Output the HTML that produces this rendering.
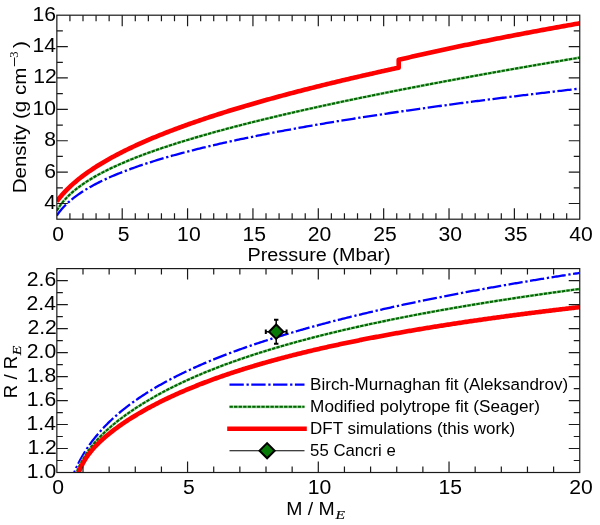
<!DOCTYPE html>
<html><head><meta charset="utf-8"><style>
html,body{margin:0;padding:0;background:#fff;width:600px;height:525px;overflow:hidden;position:relative}
</style></head><body>
<svg width="600" height="525" viewBox="0 0 600 525" style="position:absolute;left:0;top:0;will-change:transform"><defs><clipPath id="ct"><rect x="56.85" y="15.2" width="522.9" height="204.0"/></clipPath><clipPath id="cb"><rect x="56.85" y="268.6" width="522.9" height="203.89999999999998"/></clipPath></defs><g clip-path="url(#ct)" fill="none"><path d="M56.85,215.58 L57.19,215.08 L57.52,214.58 L57.86,214.10 L58.19,213.63 L58.53,213.16 L58.86,212.71 L59.20,212.26 L59.53,211.82 L59.87,211.39 L60.20,210.97 L60.54,210.55 L60.87,210.14 L61.21,209.74 L61.54,209.34 L61.88,208.95 L62.21,208.57 L62.55,208.19 L62.88,207.82 L63.22,207.45 L63.55,207.09 L63.89,206.73 L64.22,206.37 L64.56,206.03 L64.89,205.68 L65.23,205.34 L65.56,205.00 L65.90,204.67 L66.24,204.34 L66.57,204.02 L66.91,203.70 L67.24,203.38 L67.58,203.07 L67.91,202.76 L68.25,202.45 L68.58,202.15 L68.92,201.85 L69.25,201.55 L69.59,201.26 L69.92,200.97 L71.63,199.53 L73.33,198.15 L75.04,196.84 L76.74,195.57 L78.45,194.36 L80.15,193.19 L81.86,192.06 L83.56,190.96 L85.27,189.90 L86.97,188.87 L88.68,187.87 L90.38,186.89 L92.09,185.94 L93.79,185.02 L95.50,184.11 L97.20,183.23 L98.91,182.37 L100.61,181.53 L102.32,180.70 L104.02,179.89 L105.73,179.10 L107.43,178.32 L109.14,177.56 L110.85,176.81 L112.55,176.07 L114.26,175.34 L115.96,174.63 L117.67,173.93 L119.37,173.24 L121.08,172.56 L122.78,171.89 L124.49,171.24 L126.19,170.59 L127.90,169.95 L129.60,169.32 L131.31,168.69 L133.01,168.08 L134.72,167.47 L136.42,166.87 L138.13,166.28 L139.83,165.70 L141.54,165.12 L143.24,164.55 L144.95,163.99 L146.65,163.43 L148.36,162.88 L150.06,162.33 L151.77,161.79 L153.47,161.26 L155.18,160.73 L156.88,160.21 L158.59,159.69 L160.29,159.18 L162.00,158.67 L163.70,158.17 L165.41,157.67 L167.11,157.18 L168.82,156.69 L170.52,156.21 L172.23,155.73 L173.93,155.25 L175.64,154.78 L177.34,154.32 L179.05,153.85 L180.75,153.39 L182.46,152.94 L184.16,152.49 L185.87,152.04 L187.57,151.59 L189.28,151.15 L190.99,150.71 L192.69,150.28 L194.40,149.85 L196.10,149.42 L197.81,148.99 L199.51,148.57 L201.22,148.15 L202.92,147.74 L204.63,147.32 L206.33,146.91 L208.04,146.51 L209.74,146.10 L211.45,145.70 L213.15,145.30 L214.86,144.90 L216.56,144.51 L218.27,144.12 L219.97,143.73 L221.68,143.34 L223.38,142.96 L225.09,142.58 L226.79,142.20 L228.50,141.82 L230.20,141.45 L231.91,141.07 L233.61,140.70 L235.32,140.33 L237.02,139.97 L238.73,139.60 L240.43,139.24 L242.14,138.88 L243.84,138.52 L245.55,138.17 L247.25,137.81 L248.96,137.46 L250.66,137.11 L252.37,136.76 L254.07,136.42 L255.78,136.07 L257.48,135.73 L259.19,135.39 L260.89,135.05 L262.60,134.71 L264.30,134.37 L266.01,134.04 L267.72,133.70 L269.42,133.37 L271.13,133.04 L272.83,132.71 L274.54,132.39 L276.24,132.06 L277.95,131.74 L279.65,131.42 L281.36,131.10 L283.06,130.78 L284.77,130.46 L286.47,130.14 L288.18,129.83 L289.88,129.52 L291.59,129.20 L293.29,128.89 L295.00,128.58 L296.70,128.27 L298.41,127.97 L300.11,127.66 L301.82,127.36 L303.52,127.06 L305.23,126.75 L306.93,126.45 L308.64,126.15 L310.34,125.86 L312.05,125.56 L313.75,125.26 L315.46,124.97 L317.16,124.68 L318.87,124.38 L320.57,124.09 L322.28,123.80 L323.98,123.51 L325.69,123.23 L327.39,122.94 L329.10,122.65 L330.80,122.37 L332.51,122.09 L334.21,121.80 L335.92,121.52 L337.62,121.24 L339.33,120.96 L341.03,120.68 L342.74,120.41 L344.44,120.13 L346.15,119.86 L347.86,119.58 L349.56,119.31 L351.27,119.04 L352.97,118.76 L354.68,118.49 L356.38,118.22 L358.09,117.95 L359.79,117.69 L361.50,117.42 L363.20,117.15 L364.91,116.89 L366.61,116.62 L368.32,116.36 L370.02,116.10 L371.73,115.84 L373.43,115.58 L375.14,115.32 L376.84,115.06 L378.55,114.80 L380.25,114.54 L381.96,114.28 L383.66,114.03 L385.37,113.77 L387.07,113.52 L388.78,113.26 L390.48,113.01 L392.19,112.76 L393.89,112.51 L395.60,112.26 L397.30,112.01 L399.01,111.76 L400.71,111.51 L402.42,111.26 L404.12,111.01 L405.83,110.77 L407.53,110.52 L409.24,110.28 L410.94,110.03 L412.65,109.79 L414.35,109.55 L416.06,109.31 L417.76,109.06 L419.47,108.82 L421.17,108.58 L422.88,108.34 L424.59,108.11 L426.29,107.87 L428.00,107.63 L429.70,107.39 L431.41,107.16 L433.11,106.92 L434.82,106.69 L436.52,106.45 L438.23,106.22 L439.93,105.99 L441.64,105.75 L443.34,105.52 L445.05,105.29 L446.75,105.06 L448.46,104.83 L450.16,104.60 L451.87,104.37 L453.57,104.14 L455.28,103.91 L456.98,103.69 L458.69,103.46 L460.39,103.23 L462.10,103.01 L463.80,102.78 L465.51,102.56 L467.21,102.34 L468.92,102.11 L470.62,101.89 L472.33,101.67 L474.03,101.45 L475.74,101.22 L477.44,101.00 L479.15,100.78 L480.85,100.56 L482.56,100.35 L484.26,100.13 L485.97,99.91 L487.67,99.69 L489.38,99.47 L491.08,99.26 L492.79,99.04 L494.49,98.83 L496.20,98.61 L497.90,98.40 L499.61,98.18 L501.31,97.97 L503.02,97.76 L504.73,97.54 L506.43,97.33 L508.14,97.12 L509.84,96.91 L511.55,96.70 L513.25,96.49 L514.96,96.28 L516.66,96.07 L518.37,95.86 L520.07,95.65 L521.78,95.44 L523.48,95.23 L525.19,95.03 L526.89,94.82 L528.60,94.61 L530.30,94.41 L532.01,94.20 L533.71,94.00 L535.42,93.79 L537.12,93.59 L538.83,93.38 L540.53,93.18 L542.24,92.98 L543.94,92.77 L545.65,92.57 L547.35,92.37 L549.06,92.17 L550.76,91.97 L552.47,91.77 L554.17,91.57 L555.88,91.37 L557.58,91.17 L559.29,90.97 L560.99,90.77 L562.70,90.57 L564.40,90.37 L566.11,90.18 L567.81,89.98 L569.52,89.78 L571.22,89.59 L572.93,89.39 L574.63,89.20 L576.34,89.00 L578.04,88.81 L579.75,88.61" stroke="#0000ff" stroke-width="2.3" stroke-dasharray="14.3 2.7 2.3 2.5"/><path d="M56.85,210.69 L57.19,210.10 L57.52,209.54 L57.86,208.98 L58.19,208.44 L58.53,207.92 L58.86,207.40 L59.20,206.90 L59.53,206.40 L59.87,205.92 L60.20,205.44 L60.54,204.98 L60.87,204.52 L61.21,204.07 L61.54,203.63 L61.88,203.20 L62.21,202.77 L62.55,202.35 L62.88,201.94 L63.22,201.53 L63.55,201.13 L63.89,200.74 L64.22,200.35 L64.56,199.97 L64.89,199.59 L65.23,199.22 L65.56,198.85 L65.90,198.48 L66.24,198.13 L66.57,197.77 L66.91,197.42 L67.24,197.08 L67.58,196.74 L67.91,196.40 L68.25,196.07 L68.58,195.74 L68.92,195.41 L69.25,195.09 L69.59,194.77 L69.92,194.45 L71.63,192.89 L73.33,191.41 L75.04,189.99 L76.74,188.63 L78.45,187.32 L80.15,186.05 L81.86,184.84 L83.56,183.66 L85.27,182.51 L86.97,181.40 L88.68,180.32 L90.38,179.27 L92.09,178.24 L93.79,177.24 L95.50,176.27 L97.20,175.31 L98.91,174.38 L100.61,173.46 L102.32,172.56 L104.02,171.68 L105.73,170.82 L107.43,169.97 L109.14,169.14 L110.85,168.32 L112.55,167.51 L114.26,166.72 L115.96,165.94 L117.67,165.17 L119.37,164.41 L121.08,163.66 L122.78,162.92 L124.49,162.19 L126.19,161.48 L127.90,160.77 L129.60,160.07 L131.31,159.37 L133.01,158.69 L134.72,158.01 L136.42,157.35 L138.13,156.68 L139.83,156.03 L141.54,155.38 L143.24,154.74 L144.95,154.11 L146.65,153.48 L148.36,152.86 L150.06,152.25 L151.77,151.64 L153.47,151.03 L155.18,150.43 L156.88,149.84 L158.59,149.25 L160.29,148.67 L162.00,148.09 L163.70,147.52 L165.41,146.95 L167.11,146.38 L168.82,145.82 L170.52,145.27 L172.23,144.71 L173.93,144.17 L175.64,143.62 L177.34,143.08 L179.05,142.55 L180.75,142.02 L182.46,141.49 L184.16,140.96 L185.87,140.44 L187.57,139.92 L189.28,139.41 L190.99,138.90 L192.69,138.39 L194.40,137.88 L196.10,137.38 L197.81,136.88 L199.51,136.38 L201.22,135.89 L202.92,135.40 L204.63,134.91 L206.33,134.43 L208.04,133.94 L209.74,133.46 L211.45,132.99 L213.15,132.51 L214.86,132.04 L216.56,131.57 L218.27,131.10 L219.97,130.64 L221.68,130.18 L223.38,129.72 L225.09,129.26 L226.79,128.80 L228.50,128.35 L230.20,127.90 L231.91,127.45 L233.61,127.00 L235.32,126.55 L237.02,126.11 L238.73,125.67 L240.43,125.23 L242.14,124.79 L243.84,124.35 L245.55,123.92 L247.25,123.49 L248.96,123.06 L250.66,122.63 L252.37,122.20 L254.07,121.78 L255.78,121.35 L257.48,120.93 L259.19,120.51 L260.89,120.09 L262.60,119.68 L264.30,119.26 L266.01,118.85 L267.72,118.44 L269.42,118.02 L271.13,117.62 L272.83,117.21 L274.54,116.80 L276.24,116.40 L277.95,115.99 L279.65,115.59 L281.36,115.19 L283.06,114.79 L284.77,114.39 L286.47,114.00 L288.18,113.60 L289.88,113.21 L291.59,112.81 L293.29,112.42 L295.00,112.03 L296.70,111.64 L298.41,111.26 L300.11,110.87 L301.82,110.48 L303.52,110.10 L305.23,109.72 L306.93,109.33 L308.64,108.95 L310.34,108.57 L312.05,108.20 L313.75,107.82 L315.46,107.44 L317.16,107.07 L318.87,106.69 L320.57,106.32 L322.28,105.95 L323.98,105.58 L325.69,105.21 L327.39,104.84 L329.10,104.47 L330.80,104.10 L332.51,103.74 L334.21,103.37 L335.92,103.01 L337.62,102.64 L339.33,102.28 L341.03,101.92 L342.74,101.56 L344.44,101.20 L346.15,100.84 L347.86,100.48 L349.56,100.13 L351.27,99.77 L352.97,99.41 L354.68,99.06 L356.38,98.71 L358.09,98.35 L359.79,98.00 L361.50,97.65 L363.20,97.30 L364.91,96.95 L366.61,96.60 L368.32,96.26 L370.02,95.91 L371.73,95.56 L373.43,95.22 L375.14,94.87 L376.84,94.53 L378.55,94.19 L380.25,93.84 L381.96,93.50 L383.66,93.16 L385.37,92.82 L387.07,92.48 L388.78,92.14 L390.48,91.80 L392.19,91.47 L393.89,91.13 L395.60,90.79 L397.30,90.46 L399.01,90.12 L400.71,89.79 L402.42,89.46 L404.12,89.12 L405.83,88.79 L407.53,88.46 L409.24,88.13 L410.94,87.80 L412.65,87.47 L414.35,87.14 L416.06,86.81 L417.76,86.49 L419.47,86.16 L421.17,85.83 L422.88,85.51 L424.59,85.18 L426.29,84.86 L428.00,84.53 L429.70,84.21 L431.41,83.89 L433.11,83.56 L434.82,83.24 L436.52,82.92 L438.23,82.60 L439.93,82.28 L441.64,81.96 L443.34,81.64 L445.05,81.32 L446.75,81.01 L448.46,80.69 L450.16,80.37 L451.87,80.06 L453.57,79.74 L455.28,79.43 L456.98,79.11 L458.69,78.80 L460.39,78.48 L462.10,78.17 L463.80,77.86 L465.51,77.55 L467.21,77.23 L468.92,76.92 L470.62,76.61 L472.33,76.30 L474.03,75.99 L475.74,75.68 L477.44,75.38 L479.15,75.07 L480.85,74.76 L482.56,74.45 L484.26,74.15 L485.97,73.84 L487.67,73.53 L489.38,73.23 L491.08,72.92 L492.79,72.62 L494.49,72.31 L496.20,72.01 L497.90,71.71 L499.61,71.40 L501.31,71.10 L503.02,70.80 L504.73,70.50 L506.43,70.20 L508.14,69.90 L509.84,69.60 L511.55,69.30 L513.25,69.00 L514.96,68.70 L516.66,68.40 L518.37,68.10 L520.07,67.80 L521.78,67.51 L523.48,67.21 L525.19,66.91 L526.89,66.62 L528.60,66.32 L530.30,66.02 L532.01,65.73 L533.71,65.44 L535.42,65.14 L537.12,64.85 L538.83,64.55 L540.53,64.26 L542.24,63.97 L543.94,63.68 L545.65,63.38 L547.35,63.09 L549.06,62.80 L550.76,62.51 L552.47,62.22 L554.17,61.93 L555.88,61.64 L557.58,61.35 L559.29,61.06 L560.99,60.77 L562.70,60.48 L564.40,60.19 L566.11,59.91 L567.81,59.62 L569.52,59.33 L571.22,59.05 L572.93,58.76 L574.63,58.47 L576.34,58.19 L578.04,57.90 L579.75,57.62" stroke="#9ed89e" stroke-width="2.7"/><path d="M56.85,210.69 L57.19,210.10 L57.52,209.54 L57.86,208.98 L58.19,208.44 L58.53,207.92 L58.86,207.40 L59.20,206.90 L59.53,206.40 L59.87,205.92 L60.20,205.44 L60.54,204.98 L60.87,204.52 L61.21,204.07 L61.54,203.63 L61.88,203.20 L62.21,202.77 L62.55,202.35 L62.88,201.94 L63.22,201.53 L63.55,201.13 L63.89,200.74 L64.22,200.35 L64.56,199.97 L64.89,199.59 L65.23,199.22 L65.56,198.85 L65.90,198.48 L66.24,198.13 L66.57,197.77 L66.91,197.42 L67.24,197.08 L67.58,196.74 L67.91,196.40 L68.25,196.07 L68.58,195.74 L68.92,195.41 L69.25,195.09 L69.59,194.77 L69.92,194.45 L71.63,192.89 L73.33,191.41 L75.04,189.99 L76.74,188.63 L78.45,187.32 L80.15,186.05 L81.86,184.84 L83.56,183.66 L85.27,182.51 L86.97,181.40 L88.68,180.32 L90.38,179.27 L92.09,178.24 L93.79,177.24 L95.50,176.27 L97.20,175.31 L98.91,174.38 L100.61,173.46 L102.32,172.56 L104.02,171.68 L105.73,170.82 L107.43,169.97 L109.14,169.14 L110.85,168.32 L112.55,167.51 L114.26,166.72 L115.96,165.94 L117.67,165.17 L119.37,164.41 L121.08,163.66 L122.78,162.92 L124.49,162.19 L126.19,161.48 L127.90,160.77 L129.60,160.07 L131.31,159.37 L133.01,158.69 L134.72,158.01 L136.42,157.35 L138.13,156.68 L139.83,156.03 L141.54,155.38 L143.24,154.74 L144.95,154.11 L146.65,153.48 L148.36,152.86 L150.06,152.25 L151.77,151.64 L153.47,151.03 L155.18,150.43 L156.88,149.84 L158.59,149.25 L160.29,148.67 L162.00,148.09 L163.70,147.52 L165.41,146.95 L167.11,146.38 L168.82,145.82 L170.52,145.27 L172.23,144.71 L173.93,144.17 L175.64,143.62 L177.34,143.08 L179.05,142.55 L180.75,142.02 L182.46,141.49 L184.16,140.96 L185.87,140.44 L187.57,139.92 L189.28,139.41 L190.99,138.90 L192.69,138.39 L194.40,137.88 L196.10,137.38 L197.81,136.88 L199.51,136.38 L201.22,135.89 L202.92,135.40 L204.63,134.91 L206.33,134.43 L208.04,133.94 L209.74,133.46 L211.45,132.99 L213.15,132.51 L214.86,132.04 L216.56,131.57 L218.27,131.10 L219.97,130.64 L221.68,130.18 L223.38,129.72 L225.09,129.26 L226.79,128.80 L228.50,128.35 L230.20,127.90 L231.91,127.45 L233.61,127.00 L235.32,126.55 L237.02,126.11 L238.73,125.67 L240.43,125.23 L242.14,124.79 L243.84,124.35 L245.55,123.92 L247.25,123.49 L248.96,123.06 L250.66,122.63 L252.37,122.20 L254.07,121.78 L255.78,121.35 L257.48,120.93 L259.19,120.51 L260.89,120.09 L262.60,119.68 L264.30,119.26 L266.01,118.85 L267.72,118.44 L269.42,118.02 L271.13,117.62 L272.83,117.21 L274.54,116.80 L276.24,116.40 L277.95,115.99 L279.65,115.59 L281.36,115.19 L283.06,114.79 L284.77,114.39 L286.47,114.00 L288.18,113.60 L289.88,113.21 L291.59,112.81 L293.29,112.42 L295.00,112.03 L296.70,111.64 L298.41,111.26 L300.11,110.87 L301.82,110.48 L303.52,110.10 L305.23,109.72 L306.93,109.33 L308.64,108.95 L310.34,108.57 L312.05,108.20 L313.75,107.82 L315.46,107.44 L317.16,107.07 L318.87,106.69 L320.57,106.32 L322.28,105.95 L323.98,105.58 L325.69,105.21 L327.39,104.84 L329.10,104.47 L330.80,104.10 L332.51,103.74 L334.21,103.37 L335.92,103.01 L337.62,102.64 L339.33,102.28 L341.03,101.92 L342.74,101.56 L344.44,101.20 L346.15,100.84 L347.86,100.48 L349.56,100.13 L351.27,99.77 L352.97,99.41 L354.68,99.06 L356.38,98.71 L358.09,98.35 L359.79,98.00 L361.50,97.65 L363.20,97.30 L364.91,96.95 L366.61,96.60 L368.32,96.26 L370.02,95.91 L371.73,95.56 L373.43,95.22 L375.14,94.87 L376.84,94.53 L378.55,94.19 L380.25,93.84 L381.96,93.50 L383.66,93.16 L385.37,92.82 L387.07,92.48 L388.78,92.14 L390.48,91.80 L392.19,91.47 L393.89,91.13 L395.60,90.79 L397.30,90.46 L399.01,90.12 L400.71,89.79 L402.42,89.46 L404.12,89.12 L405.83,88.79 L407.53,88.46 L409.24,88.13 L410.94,87.80 L412.65,87.47 L414.35,87.14 L416.06,86.81 L417.76,86.49 L419.47,86.16 L421.17,85.83 L422.88,85.51 L424.59,85.18 L426.29,84.86 L428.00,84.53 L429.70,84.21 L431.41,83.89 L433.11,83.56 L434.82,83.24 L436.52,82.92 L438.23,82.60 L439.93,82.28 L441.64,81.96 L443.34,81.64 L445.05,81.32 L446.75,81.01 L448.46,80.69 L450.16,80.37 L451.87,80.06 L453.57,79.74 L455.28,79.43 L456.98,79.11 L458.69,78.80 L460.39,78.48 L462.10,78.17 L463.80,77.86 L465.51,77.55 L467.21,77.23 L468.92,76.92 L470.62,76.61 L472.33,76.30 L474.03,75.99 L475.74,75.68 L477.44,75.38 L479.15,75.07 L480.85,74.76 L482.56,74.45 L484.26,74.15 L485.97,73.84 L487.67,73.53 L489.38,73.23 L491.08,72.92 L492.79,72.62 L494.49,72.31 L496.20,72.01 L497.90,71.71 L499.61,71.40 L501.31,71.10 L503.02,70.80 L504.73,70.50 L506.43,70.20 L508.14,69.90 L509.84,69.60 L511.55,69.30 L513.25,69.00 L514.96,68.70 L516.66,68.40 L518.37,68.10 L520.07,67.80 L521.78,67.51 L523.48,67.21 L525.19,66.91 L526.89,66.62 L528.60,66.32 L530.30,66.02 L532.01,65.73 L533.71,65.44 L535.42,65.14 L537.12,64.85 L538.83,64.55 L540.53,64.26 L542.24,63.97 L543.94,63.68 L545.65,63.38 L547.35,63.09 L549.06,62.80 L550.76,62.51 L552.47,62.22 L554.17,61.93 L555.88,61.64 L557.58,61.35 L559.29,61.06 L560.99,60.77 L562.70,60.48 L564.40,60.19 L566.11,59.91 L567.81,59.62 L569.52,59.33 L571.22,59.05 L572.93,58.76 L574.63,58.47 L576.34,58.19 L578.04,57.90 L579.75,57.62" stroke="#006400" stroke-width="2.1" stroke-dasharray="3.35 1.2"/><path d="M56.85,201.38 L57.19,200.92 L57.52,200.48 L57.86,200.04 L58.19,199.60 L58.53,199.17 L58.86,198.74 L59.20,198.32 L59.53,197.90 L59.87,197.49 L60.20,197.08 L60.54,196.68 L60.87,196.28 L61.21,195.89 L61.54,195.50 L61.88,195.11 L62.21,194.72 L62.55,194.34 L62.88,193.97 L63.22,193.59 L63.55,193.23 L63.89,192.86 L64.22,192.50 L64.56,192.14 L64.89,191.78 L65.23,191.43 L65.56,191.07 L65.90,190.73 L66.24,190.38 L66.57,190.04 L66.91,189.70 L67.24,189.36 L67.58,189.03 L67.91,188.70 L68.25,188.37 L68.58,188.04 L68.92,187.72 L69.25,187.39 L69.59,187.08 L69.92,186.76 L71.63,185.18 L73.33,183.65 L75.04,182.17 L76.74,180.73 L78.45,179.34 L80.15,177.98 L81.86,176.66 L83.56,175.37 L85.27,174.12 L86.97,172.89 L88.68,171.69 L90.38,170.52 L92.09,169.37 L93.79,168.24 L95.50,167.13 L97.20,166.05 L98.91,164.98 L100.61,163.94 L102.32,162.91 L104.02,161.90 L105.73,160.90 L107.43,159.93 L109.14,158.96 L110.85,158.01 L112.55,157.08 L114.26,156.15 L115.96,155.24 L117.67,154.35 L119.37,153.46 L121.08,152.59 L122.78,151.72 L124.49,150.87 L126.19,150.03 L127.90,149.20 L129.60,148.38 L131.31,147.56 L133.01,146.76 L134.72,145.97 L136.42,145.18 L138.13,144.40 L139.83,143.63 L141.54,142.87 L143.24,142.11 L144.95,141.37 L146.65,140.63 L148.36,139.89 L150.06,139.17 L151.77,138.45 L153.47,137.74 L155.18,137.03 L156.88,136.33 L158.59,135.64 L160.29,134.95 L162.00,134.26 L163.70,133.59 L165.41,132.92 L167.11,132.25 L168.82,131.59 L170.52,130.93 L172.23,130.28 L173.93,129.64 L175.64,128.99 L177.34,128.36 L179.05,127.73 L180.75,127.10 L182.46,126.48 L184.16,125.86 L185.87,125.24 L187.57,124.63 L189.28,124.03 L190.99,123.43 L192.69,122.83 L194.40,122.23 L196.10,121.64 L197.81,121.06 L199.51,120.47 L201.22,119.89 L202.92,119.32 L204.63,118.75 L206.33,118.18 L208.04,117.61 L209.74,117.05 L211.45,116.49 L213.15,115.94 L214.86,115.38 L216.56,114.83 L218.27,114.29 L219.97,113.74 L221.68,113.20 L223.38,112.67 L225.09,112.13 L226.79,111.60 L228.50,111.07 L230.20,110.54 L231.91,110.02 L233.61,109.50 L235.32,108.98 L237.02,108.46 L238.73,107.95 L240.43,107.44 L242.14,106.93 L243.84,106.43 L245.55,105.92 L247.25,105.42 L248.96,104.92 L250.66,104.43 L252.37,103.93 L254.07,103.44 L255.78,102.95 L257.48,102.46 L259.19,101.98 L260.89,101.49 L262.60,101.01 L264.30,100.53 L266.01,100.06 L267.72,99.58 L269.42,99.11 L271.13,98.64 L272.83,98.17 L274.54,97.70 L276.24,97.23 L277.95,96.77 L279.65,96.31 L281.36,95.85 L283.06,95.39 L284.77,94.94 L286.47,94.48 L288.18,94.03 L289.88,93.58 L291.59,93.13 L293.29,92.68 L295.00,92.23 L296.70,91.79 L298.41,91.35 L300.11,90.91 L301.82,90.47 L303.52,90.03 L305.23,89.59 L306.93,89.16 L308.64,88.73 L310.34,88.29 L312.05,87.86 L313.75,87.44 L315.46,87.01 L317.16,86.58 L318.87,86.16 L320.57,85.74 L322.28,85.31 L323.98,84.89 L325.69,84.48 L327.39,84.06 L329.10,83.64 L330.80,83.23 L332.51,82.81 L334.21,82.40 L335.92,81.99 L337.62,81.58 L339.33,81.17 L341.03,80.77 L342.74,80.36 L344.44,79.96 L346.15,79.56 L347.86,79.15 L349.56,78.75 L351.27,78.35 L352.97,77.96 L354.68,77.56 L356.38,77.16 L358.09,76.77 L359.79,76.37 L361.50,75.98 L363.20,75.59 L364.91,75.20 L366.61,74.81 L368.32,74.42 L370.02,74.04 L371.73,73.65 L373.43,73.27 L375.14,72.88 L376.84,72.50 L378.55,72.12 L380.25,71.74 L381.96,71.36 L383.66,70.98 L385.37,70.60 L387.07,70.23 L388.78,69.85 L390.48,69.48 L392.19,69.10 L393.89,68.73 L395.60,68.36 L397.30,67.99 L398.70,67.69 L398.70,59.79 L400.99,59.25 L403.28,58.72 L405.57,58.18 L407.86,57.65 L410.15,57.13 L412.45,56.60 L414.74,56.08 L417.03,55.56 L419.32,55.04 L421.61,54.52 L423.91,54.01 L426.20,53.50 L428.49,52.99 L430.78,52.48 L433.07,51.98 L435.37,51.47 L437.66,50.97 L439.95,50.48 L442.24,49.98 L444.53,49.48 L446.82,48.99 L449.12,48.50 L451.41,48.01 L453.70,47.53 L455.99,47.04 L458.28,46.56 L460.58,46.08 L462.87,45.60 L465.16,45.12 L467.45,44.64 L469.74,44.17 L472.03,43.70 L474.33,43.23 L476.62,42.76 L478.91,42.29 L481.20,41.83 L483.49,41.37 L485.79,40.90 L488.08,40.44 L490.37,39.99 L492.66,39.53 L494.95,39.08 L497.24,38.62 L499.54,38.17 L501.83,37.72 L504.12,37.27 L506.41,36.83 L508.70,36.38 L511.00,35.94 L513.29,35.49 L515.58,35.05 L517.87,34.62 L520.16,34.18 L522.45,33.74 L524.75,33.31 L527.04,32.87 L529.33,32.44 L531.62,32.01 L533.91,31.58 L536.21,31.16 L538.50,30.73 L540.79,30.30 L543.08,29.88 L545.37,29.46 L547.66,29.04 L549.96,28.62 L552.25,28.20 L554.54,27.79 L556.83,27.37 L559.12,26.96 L561.42,26.54 L563.71,26.13 L566.00,25.72 L568.29,25.31 L570.58,24.91 L572.87,24.50 L575.17,24.09 L577.46,23.69 L579.75,23.29" stroke="#ff0000" stroke-width="4.6" stroke-linejoin="round"/></g><g clip-path="url(#cb)" fill="none"><path d="M69.92,483.97 L71.20,480.24 L72.48,476.78 L73.76,473.56 L75.03,470.55 L76.31,467.70 L77.59,465.01 L78.87,462.45 L80.14,460.01 L81.42,457.68 L82.70,455.45 L83.98,453.31 L85.26,451.25 L86.53,449.26 L87.81,447.34 L89.09,445.48 L90.37,443.68 L91.64,441.93 L92.92,440.24 L94.20,438.59 L95.48,436.99 L96.76,435.43 L98.03,433.91 L99.31,432.43 L100.59,430.98 L101.87,429.57 L103.14,428.18 L104.42,426.83 L105.70,425.51 L106.98,424.21 L108.26,422.94 L109.53,421.69 L110.81,420.47 L112.09,419.27 L113.37,418.09 L114.64,416.93 L115.92,415.80 L117.20,414.68 L118.48,413.58 L119.76,412.50 L121.03,411.44 L122.31,410.39 L123.59,409.36 L124.87,408.34 L126.14,407.34 L127.42,406.36 L128.70,405.39 L129.98,404.43 L131.26,403.48 L132.53,402.55 L133.81,401.63 L135.09,400.72 L136.37,399.83 L137.64,398.94 L138.92,398.07 L140.20,397.21 L141.48,396.35 L142.75,395.51 L144.03,394.68 L145.31,393.86 L146.59,393.04 L147.87,392.24 L149.14,391.44 L150.42,390.66 L151.70,389.88 L152.98,389.11 L154.25,388.34 L155.53,387.59 L156.81,386.84 L158.09,386.11 L159.37,385.37 L160.64,384.65 L161.92,383.93 L163.20,383.22 L164.48,382.52 L165.75,381.82 L167.03,381.13 L168.31,380.45 L169.59,379.77 L170.87,379.10 L172.14,378.43 L173.42,377.77 L174.70,377.12 L175.98,376.47 L177.25,375.82 L178.53,375.19 L179.81,374.55 L181.09,373.93 L182.37,373.30 L183.64,372.69 L184.92,372.07 L186.20,371.47 L187.48,370.86 L188.75,370.26 L190.03,369.67 L191.31,369.08 L192.59,368.50 L193.87,367.92 L195.14,367.34 L196.42,366.77 L197.70,366.20 L198.98,365.64 L200.25,365.08 L201.53,364.52 L202.81,363.97 L204.09,363.43 L205.37,362.88 L206.64,362.34 L207.92,361.80 L209.20,361.27 L210.48,360.74 L211.75,360.22 L213.03,359.69 L214.31,359.17 L215.59,358.66 L216.87,358.15 L218.14,357.64 L219.42,357.13 L220.70,356.63 L221.98,356.13 L223.25,355.63 L224.53,355.14 L225.81,354.65 L227.09,354.16 L228.37,353.68 L229.64,353.19 L230.92,352.72 L232.20,352.24 L233.48,351.77 L234.75,351.29 L236.03,350.83 L237.31,350.36 L238.59,349.90 L239.86,349.44 L241.14,348.98 L242.42,348.53 L243.70,348.07 L244.98,347.62 L246.25,347.18 L247.53,346.73 L248.81,346.29 L250.09,345.85 L251.36,345.41 L252.64,344.97 L253.92,344.54 L255.20,344.11 L256.48,343.68 L257.75,343.25 L259.03,342.83 L260.31,342.41 L261.59,341.99 L262.86,341.57 L264.14,341.15 L265.42,340.74 L266.70,340.32 L267.98,339.91 L269.25,339.51 L270.53,339.10 L271.81,338.70 L273.09,338.29 L274.36,337.89 L275.64,337.49 L276.92,337.10 L278.20,336.70 L279.48,336.31 L280.75,335.92 L282.03,335.53 L283.31,335.14 L284.59,334.75 L285.86,334.37 L287.14,333.99 L288.42,333.61 L289.70,333.23 L290.98,332.85 L292.25,332.48 L293.53,332.10 L294.81,331.73 L296.09,331.36 L297.36,330.99 L298.64,330.62 L299.92,330.25 L301.20,329.89 L302.48,329.53 L303.75,329.16 L305.03,328.80 L306.31,328.45 L307.59,328.09 L308.86,327.73 L310.14,327.38 L311.42,327.03 L312.70,326.67 L313.98,326.33 L315.25,325.98 L316.53,325.63 L317.81,325.28 L319.09,324.94 L320.36,324.60 L321.64,324.25 L322.92,323.91 L324.20,323.57 L325.48,323.24 L326.75,322.90 L328.03,322.57 L329.31,322.23 L330.59,321.90 L331.86,321.57 L333.14,321.24 L334.42,320.91 L335.70,320.58 L336.97,320.25 L338.25,319.93 L339.53,319.60 L340.81,319.28 L342.09,318.96 L343.36,318.64 L344.64,318.32 L345.92,318.00 L347.20,317.68 L348.47,317.37 L349.75,317.05 L351.03,316.74 L352.31,316.43 L353.59,316.11 L354.86,315.80 L356.14,315.49 L357.42,315.19 L358.70,314.88 L359.97,314.57 L361.25,314.27 L362.53,313.96 L363.81,313.66 L365.09,313.36 L366.36,313.06 L367.64,312.75 L368.92,312.46 L370.20,312.16 L371.47,311.86 L372.75,311.56 L374.03,311.27 L375.31,310.97 L376.59,310.68 L377.86,310.39 L379.14,310.10 L380.42,309.81 L381.70,309.52 L382.97,309.23 L384.25,308.94 L385.53,308.65 L386.81,308.37 L388.09,308.08 L389.36,307.80 L390.64,307.51 L391.92,307.23 L393.20,306.95 L394.47,306.67 L395.75,306.39 L397.03,306.11 L398.31,305.83 L399.59,305.55 L400.86,305.28 L402.14,305.00 L403.42,304.73 L404.70,304.45 L405.97,304.18 L407.25,303.91 L408.53,303.64 L409.81,303.37 L411.09,303.10 L412.36,302.83 L413.64,302.56 L414.92,302.29 L416.20,302.02 L417.47,301.76 L418.75,301.49 L420.03,301.23 L421.31,300.96 L422.59,300.70 L423.86,300.44 L425.14,300.18 L426.42,299.92 L427.70,299.66 L428.97,299.40 L430.25,299.14 L431.53,298.88 L432.81,298.62 L434.08,298.37 L435.36,298.11 L436.64,297.85 L437.92,297.60 L439.20,297.35 L440.47,297.09 L441.75,296.84 L443.03,296.59 L444.31,296.34 L445.58,296.09 L446.86,295.84 L448.14,295.59 L449.42,295.34 L450.70,295.09 L451.97,294.85 L453.25,294.60 L454.53,294.35 L455.81,294.11 L457.08,293.86 L458.36,293.62 L459.64,293.38 L460.92,293.13 L462.20,292.89 L463.47,292.65 L464.75,292.41 L466.03,292.17 L467.31,291.93 L468.58,291.69 L469.86,291.45 L471.14,291.22 L472.42,290.98 L473.70,290.74 L474.97,290.51 L476.25,290.27 L477.53,290.04 L478.81,289.80 L480.08,289.57 L481.36,289.33 L482.64,289.10 L483.92,288.87 L485.20,288.64 L486.47,288.41 L487.75,288.18 L489.03,287.95 L490.31,287.72 L491.58,287.49 L492.86,287.26 L494.14,287.03 L495.42,286.81 L496.70,286.58 L497.97,286.36 L499.25,286.13 L500.53,285.91 L501.81,285.68 L503.08,285.46 L504.36,285.23 L505.64,285.01 L506.92,284.79 L508.20,284.57 L509.47,284.35 L510.75,284.13 L512.03,283.91 L513.31,283.69 L514.58,283.47 L515.86,283.25 L517.14,283.03 L518.42,282.81 L519.70,282.59 L520.97,282.38 L522.25,282.16 L523.53,281.95 L524.81,281.73 L526.08,281.52 L527.36,281.30 L528.64,281.09 L529.92,280.87 L531.19,280.66 L532.47,280.45 L533.75,280.24 L535.03,280.03 L536.31,279.81 L537.58,279.60 L538.86,279.39 L540.14,279.18 L541.42,278.97 L542.69,278.77 L543.97,278.56 L545.25,278.35 L546.53,278.14 L547.81,277.94 L549.08,277.73 L550.36,277.52 L551.64,277.32 L552.92,277.11 L554.19,276.91 L555.47,276.70 L556.75,276.50 L558.03,276.30 L559.31,276.09 L560.58,275.89 L561.86,275.69 L563.14,275.49 L564.42,275.28 L565.69,275.08 L566.97,274.88 L568.25,274.68 L569.53,274.48 L570.81,274.28 L572.08,274.08 L573.36,273.89 L574.64,273.69 L575.92,273.49 L577.19,273.29 L578.47,273.09 L579.75,272.90" stroke="#0000ff" stroke-width="2.3" stroke-dasharray="14.3 2.7 2.3 2.5"/><path d="M69.92,497.47 L71.20,491.00 L72.48,485.60 L73.76,480.99 L75.03,476.96 L76.31,473.37 L77.59,470.14 L78.87,467.20 L80.14,464.49 L81.42,461.98 L82.70,459.64 L83.98,457.43 L85.26,455.35 L86.53,453.38 L87.81,451.50 L89.09,449.71 L90.37,447.99 L91.64,446.34 L92.92,444.75 L94.20,443.22 L95.48,441.73 L96.76,440.29 L98.03,438.90 L99.31,437.54 L100.59,436.22 L101.87,434.93 L103.14,433.67 L104.42,432.44 L105.70,431.24 L106.98,430.07 L108.26,428.91 L109.53,427.78 L110.81,426.68 L112.09,425.59 L113.37,424.52 L114.64,423.47 L115.92,422.44 L117.20,421.42 L118.48,420.42 L119.76,419.43 L121.03,418.46 L122.31,417.51 L123.59,416.56 L124.87,415.63 L126.14,414.71 L127.42,413.80 L128.70,412.90 L129.98,412.02 L131.26,411.14 L132.53,410.27 L133.81,409.42 L135.09,408.57 L136.37,407.73 L137.64,406.90 L138.92,406.08 L140.20,405.27 L141.48,404.47 L142.75,403.67 L144.03,402.89 L145.31,402.11 L146.59,401.34 L147.87,400.57 L149.14,399.82 L150.42,399.07 L151.70,398.32 L152.98,397.59 L154.25,396.86 L155.53,396.14 L156.81,395.43 L158.09,394.72 L159.37,394.02 L160.64,393.32 L161.92,392.64 L163.20,391.95 L164.48,391.28 L165.75,390.61 L167.03,389.94 L168.31,389.28 L169.59,388.63 L170.87,387.98 L172.14,387.34 L173.42,386.70 L174.70,386.07 L175.98,385.45 L177.25,384.82 L178.53,384.21 L179.81,383.60 L181.09,382.99 L182.37,382.39 L183.64,381.79 L184.92,381.20 L186.20,380.61 L187.48,380.03 L188.75,379.45 L190.03,378.88 L191.31,378.31 L192.59,377.74 L193.87,377.18 L195.14,376.62 L196.42,376.07 L197.70,375.52 L198.98,374.98 L200.25,374.43 L201.53,373.90 L202.81,373.36 L204.09,372.83 L205.37,372.31 L206.64,371.78 L207.92,371.27 L209.20,370.75 L210.48,370.24 L211.75,369.73 L213.03,369.22 L214.31,368.72 L215.59,368.22 L216.87,367.73 L218.14,367.24 L219.42,366.75 L220.70,366.26 L221.98,365.78 L223.25,365.30 L224.53,364.82 L225.81,364.35 L227.09,363.88 L228.37,363.41 L229.64,362.95 L230.92,362.49 L232.20,362.03 L233.48,361.57 L234.75,361.12 L236.03,360.67 L237.31,360.22 L238.59,359.77 L239.86,359.33 L241.14,358.89 L242.42,358.45 L243.70,358.02 L244.98,357.59 L246.25,357.16 L247.53,356.73 L248.81,356.30 L250.09,355.88 L251.36,355.46 L252.64,355.04 L253.92,354.63 L255.20,354.21 L256.48,353.80 L257.75,353.39 L259.03,352.98 L260.31,352.58 L261.59,352.18 L262.86,351.78 L264.14,351.38 L265.42,350.98 L266.70,350.59 L267.98,350.20 L269.25,349.81 L270.53,349.42 L271.81,349.03 L273.09,348.65 L274.36,348.27 L275.64,347.89 L276.92,347.51 L278.20,347.13 L279.48,346.76 L280.75,346.39 L282.03,346.02 L283.31,345.65 L284.59,345.28 L285.86,344.91 L287.14,344.55 L288.42,344.19 L289.70,343.83 L290.98,343.47 L292.25,343.11 L293.53,342.76 L294.81,342.41 L296.09,342.06 L297.36,341.71 L298.64,341.36 L299.92,341.01 L301.20,340.67 L302.48,340.32 L303.75,339.98 L305.03,339.64 L306.31,339.30 L307.59,338.96 L308.86,338.63 L310.14,338.29 L311.42,337.96 L312.70,337.63 L313.98,337.30 L315.25,336.97 L316.53,336.65 L317.81,336.32 L319.09,336.00 L320.36,335.67 L321.64,335.35 L322.92,335.03 L324.20,334.72 L325.48,334.40 L326.75,334.08 L328.03,333.77 L329.31,333.45 L330.59,333.14 L331.86,332.83 L333.14,332.52 L334.42,332.22 L335.70,331.91 L336.97,331.60 L338.25,331.30 L339.53,331.00 L340.81,330.70 L342.09,330.39 L343.36,330.10 L344.64,329.80 L345.92,329.50 L347.20,329.21 L348.47,328.91 L349.75,328.62 L351.03,328.33 L352.31,328.03 L353.59,327.74 L354.86,327.46 L356.14,327.17 L357.42,326.88 L358.70,326.60 L359.97,326.31 L361.25,326.03 L362.53,325.75 L363.81,325.47 L365.09,325.19 L366.36,324.91 L367.64,324.63 L368.92,324.35 L370.20,324.08 L371.47,323.80 L372.75,323.53 L374.03,323.26 L375.31,322.98 L376.59,322.71 L377.86,322.44 L379.14,322.17 L380.42,321.91 L381.70,321.64 L382.97,321.37 L384.25,321.11 L385.53,320.85 L386.81,320.58 L388.09,320.32 L389.36,320.06 L390.64,319.80 L391.92,319.54 L393.20,319.28 L394.47,319.02 L395.75,318.77 L397.03,318.51 L398.31,318.26 L399.59,318.00 L400.86,317.75 L402.14,317.50 L403.42,317.25 L404.70,317.00 L405.97,316.75 L407.25,316.50 L408.53,316.25 L409.81,316.00 L411.09,315.76 L412.36,315.51 L413.64,315.27 L414.92,315.02 L416.20,314.78 L417.47,314.54 L418.75,314.30 L420.03,314.06 L421.31,313.82 L422.59,313.58 L423.86,313.34 L425.14,313.10 L426.42,312.86 L427.70,312.63 L428.97,312.39 L430.25,312.16 L431.53,311.93 L432.81,311.69 L434.08,311.46 L435.36,311.23 L436.64,311.00 L437.92,310.77 L439.20,310.54 L440.47,310.31 L441.75,310.08 L443.03,309.85 L444.31,309.63 L445.58,309.40 L446.86,309.18 L448.14,308.95 L449.42,308.73 L450.70,308.51 L451.97,308.28 L453.25,308.06 L454.53,307.84 L455.81,307.62 L457.08,307.40 L458.36,307.18 L459.64,306.96 L460.92,306.75 L462.20,306.53 L463.47,306.31 L464.75,306.10 L466.03,305.88 L467.31,305.67 L468.58,305.45 L469.86,305.24 L471.14,305.03 L472.42,304.82 L473.70,304.61 L474.97,304.39 L476.25,304.18 L477.53,303.98 L478.81,303.77 L480.08,303.56 L481.36,303.35 L482.64,303.14 L483.92,302.94 L485.20,302.73 L486.47,302.53 L487.75,302.32 L489.03,302.12 L490.31,301.91 L491.58,301.71 L492.86,301.51 L494.14,301.31 L495.42,301.10 L496.70,300.90 L497.97,300.70 L499.25,300.50 L500.53,300.30 L501.81,300.11 L503.08,299.91 L504.36,299.71 L505.64,299.51 L506.92,299.32 L508.20,299.12 L509.47,298.93 L510.75,298.73 L512.03,298.54 L513.31,298.34 L514.58,298.15 L515.86,297.96 L517.14,297.76 L518.42,297.57 L519.70,297.38 L520.97,297.19 L522.25,297.00 L523.53,296.81 L524.81,296.62 L526.08,296.43 L527.36,296.25 L528.64,296.06 L529.92,295.87 L531.19,295.68 L532.47,295.50 L533.75,295.31 L535.03,295.13 L536.31,294.94 L537.58,294.76 L538.86,294.57 L540.14,294.39 L541.42,294.21 L542.69,294.02 L543.97,293.84 L545.25,293.66 L546.53,293.48 L547.81,293.30 L549.08,293.12 L550.36,292.94 L551.64,292.76 L552.92,292.58 L554.19,292.40 L555.47,292.22 L556.75,292.05 L558.03,291.87 L559.31,291.69 L560.58,291.52 L561.86,291.34 L563.14,291.17 L564.42,290.99 L565.69,290.82 L566.97,290.64 L568.25,290.47 L569.53,290.30 L570.81,290.12 L572.08,289.95 L573.36,289.78 L574.64,289.61 L575.92,289.44 L577.19,289.27 L578.47,289.10 L579.75,288.93" stroke="#9ed89e" stroke-width="2.7"/><path d="M69.92,497.47 L71.20,491.00 L72.48,485.60 L73.76,480.99 L75.03,476.96 L76.31,473.37 L77.59,470.14 L78.87,467.20 L80.14,464.49 L81.42,461.98 L82.70,459.64 L83.98,457.43 L85.26,455.35 L86.53,453.38 L87.81,451.50 L89.09,449.71 L90.37,447.99 L91.64,446.34 L92.92,444.75 L94.20,443.22 L95.48,441.73 L96.76,440.29 L98.03,438.90 L99.31,437.54 L100.59,436.22 L101.87,434.93 L103.14,433.67 L104.42,432.44 L105.70,431.24 L106.98,430.07 L108.26,428.91 L109.53,427.78 L110.81,426.68 L112.09,425.59 L113.37,424.52 L114.64,423.47 L115.92,422.44 L117.20,421.42 L118.48,420.42 L119.76,419.43 L121.03,418.46 L122.31,417.51 L123.59,416.56 L124.87,415.63 L126.14,414.71 L127.42,413.80 L128.70,412.90 L129.98,412.02 L131.26,411.14 L132.53,410.27 L133.81,409.42 L135.09,408.57 L136.37,407.73 L137.64,406.90 L138.92,406.08 L140.20,405.27 L141.48,404.47 L142.75,403.67 L144.03,402.89 L145.31,402.11 L146.59,401.34 L147.87,400.57 L149.14,399.82 L150.42,399.07 L151.70,398.32 L152.98,397.59 L154.25,396.86 L155.53,396.14 L156.81,395.43 L158.09,394.72 L159.37,394.02 L160.64,393.32 L161.92,392.64 L163.20,391.95 L164.48,391.28 L165.75,390.61 L167.03,389.94 L168.31,389.28 L169.59,388.63 L170.87,387.98 L172.14,387.34 L173.42,386.70 L174.70,386.07 L175.98,385.45 L177.25,384.82 L178.53,384.21 L179.81,383.60 L181.09,382.99 L182.37,382.39 L183.64,381.79 L184.92,381.20 L186.20,380.61 L187.48,380.03 L188.75,379.45 L190.03,378.88 L191.31,378.31 L192.59,377.74 L193.87,377.18 L195.14,376.62 L196.42,376.07 L197.70,375.52 L198.98,374.98 L200.25,374.43 L201.53,373.90 L202.81,373.36 L204.09,372.83 L205.37,372.31 L206.64,371.78 L207.92,371.27 L209.20,370.75 L210.48,370.24 L211.75,369.73 L213.03,369.22 L214.31,368.72 L215.59,368.22 L216.87,367.73 L218.14,367.24 L219.42,366.75 L220.70,366.26 L221.98,365.78 L223.25,365.30 L224.53,364.82 L225.81,364.35 L227.09,363.88 L228.37,363.41 L229.64,362.95 L230.92,362.49 L232.20,362.03 L233.48,361.57 L234.75,361.12 L236.03,360.67 L237.31,360.22 L238.59,359.77 L239.86,359.33 L241.14,358.89 L242.42,358.45 L243.70,358.02 L244.98,357.59 L246.25,357.16 L247.53,356.73 L248.81,356.30 L250.09,355.88 L251.36,355.46 L252.64,355.04 L253.92,354.63 L255.20,354.21 L256.48,353.80 L257.75,353.39 L259.03,352.98 L260.31,352.58 L261.59,352.18 L262.86,351.78 L264.14,351.38 L265.42,350.98 L266.70,350.59 L267.98,350.20 L269.25,349.81 L270.53,349.42 L271.81,349.03 L273.09,348.65 L274.36,348.27 L275.64,347.89 L276.92,347.51 L278.20,347.13 L279.48,346.76 L280.75,346.39 L282.03,346.02 L283.31,345.65 L284.59,345.28 L285.86,344.91 L287.14,344.55 L288.42,344.19 L289.70,343.83 L290.98,343.47 L292.25,343.11 L293.53,342.76 L294.81,342.41 L296.09,342.06 L297.36,341.71 L298.64,341.36 L299.92,341.01 L301.20,340.67 L302.48,340.32 L303.75,339.98 L305.03,339.64 L306.31,339.30 L307.59,338.96 L308.86,338.63 L310.14,338.29 L311.42,337.96 L312.70,337.63 L313.98,337.30 L315.25,336.97 L316.53,336.65 L317.81,336.32 L319.09,336.00 L320.36,335.67 L321.64,335.35 L322.92,335.03 L324.20,334.72 L325.48,334.40 L326.75,334.08 L328.03,333.77 L329.31,333.45 L330.59,333.14 L331.86,332.83 L333.14,332.52 L334.42,332.22 L335.70,331.91 L336.97,331.60 L338.25,331.30 L339.53,331.00 L340.81,330.70 L342.09,330.39 L343.36,330.10 L344.64,329.80 L345.92,329.50 L347.20,329.21 L348.47,328.91 L349.75,328.62 L351.03,328.33 L352.31,328.03 L353.59,327.74 L354.86,327.46 L356.14,327.17 L357.42,326.88 L358.70,326.60 L359.97,326.31 L361.25,326.03 L362.53,325.75 L363.81,325.47 L365.09,325.19 L366.36,324.91 L367.64,324.63 L368.92,324.35 L370.20,324.08 L371.47,323.80 L372.75,323.53 L374.03,323.26 L375.31,322.98 L376.59,322.71 L377.86,322.44 L379.14,322.17 L380.42,321.91 L381.70,321.64 L382.97,321.37 L384.25,321.11 L385.53,320.85 L386.81,320.58 L388.09,320.32 L389.36,320.06 L390.64,319.80 L391.92,319.54 L393.20,319.28 L394.47,319.02 L395.75,318.77 L397.03,318.51 L398.31,318.26 L399.59,318.00 L400.86,317.75 L402.14,317.50 L403.42,317.25 L404.70,317.00 L405.97,316.75 L407.25,316.50 L408.53,316.25 L409.81,316.00 L411.09,315.76 L412.36,315.51 L413.64,315.27 L414.92,315.02 L416.20,314.78 L417.47,314.54 L418.75,314.30 L420.03,314.06 L421.31,313.82 L422.59,313.58 L423.86,313.34 L425.14,313.10 L426.42,312.86 L427.70,312.63 L428.97,312.39 L430.25,312.16 L431.53,311.93 L432.81,311.69 L434.08,311.46 L435.36,311.23 L436.64,311.00 L437.92,310.77 L439.20,310.54 L440.47,310.31 L441.75,310.08 L443.03,309.85 L444.31,309.63 L445.58,309.40 L446.86,309.18 L448.14,308.95 L449.42,308.73 L450.70,308.51 L451.97,308.28 L453.25,308.06 L454.53,307.84 L455.81,307.62 L457.08,307.40 L458.36,307.18 L459.64,306.96 L460.92,306.75 L462.20,306.53 L463.47,306.31 L464.75,306.10 L466.03,305.88 L467.31,305.67 L468.58,305.45 L469.86,305.24 L471.14,305.03 L472.42,304.82 L473.70,304.61 L474.97,304.39 L476.25,304.18 L477.53,303.98 L478.81,303.77 L480.08,303.56 L481.36,303.35 L482.64,303.14 L483.92,302.94 L485.20,302.73 L486.47,302.53 L487.75,302.32 L489.03,302.12 L490.31,301.91 L491.58,301.71 L492.86,301.51 L494.14,301.31 L495.42,301.10 L496.70,300.90 L497.97,300.70 L499.25,300.50 L500.53,300.30 L501.81,300.11 L503.08,299.91 L504.36,299.71 L505.64,299.51 L506.92,299.32 L508.20,299.12 L509.47,298.93 L510.75,298.73 L512.03,298.54 L513.31,298.34 L514.58,298.15 L515.86,297.96 L517.14,297.76 L518.42,297.57 L519.70,297.38 L520.97,297.19 L522.25,297.00 L523.53,296.81 L524.81,296.62 L526.08,296.43 L527.36,296.25 L528.64,296.06 L529.92,295.87 L531.19,295.68 L532.47,295.50 L533.75,295.31 L535.03,295.13 L536.31,294.94 L537.58,294.76 L538.86,294.57 L540.14,294.39 L541.42,294.21 L542.69,294.02 L543.97,293.84 L545.25,293.66 L546.53,293.48 L547.81,293.30 L549.08,293.12 L550.36,292.94 L551.64,292.76 L552.92,292.58 L554.19,292.40 L555.47,292.22 L556.75,292.05 L558.03,291.87 L559.31,291.69 L560.58,291.52 L561.86,291.34 L563.14,291.17 L564.42,290.99 L565.69,290.82 L566.97,290.64 L568.25,290.47 L569.53,290.30 L570.81,290.12 L572.08,289.95 L573.36,289.78 L574.64,289.61 L575.92,289.44 L577.19,289.27 L578.47,289.10 L579.75,288.93" stroke="#006400" stroke-width="2.1" stroke-dasharray="3.35 1.2"/><path d="M69.92,511.65 L71.20,502.13 L72.48,494.59 L73.76,488.45 L75.03,483.32 L76.31,478.94 L77.59,475.13 L78.87,471.78 L80.14,468.78 L81.42,466.08 L82.70,463.61 L83.98,461.35 L85.26,459.25 L86.53,457.29 L87.81,455.45 L89.09,453.72 L90.37,452.08 L91.64,450.52 L92.92,449.02 L94.20,447.59 L95.48,446.21 L96.76,444.88 L98.03,443.60 L99.31,442.35 L100.59,441.14 L101.87,439.96 L103.14,438.81 L104.42,437.69 L105.70,436.59 L106.98,435.51 L108.26,434.46 L109.53,433.42 L110.81,432.40 L112.09,431.40 L113.37,430.42 L114.64,429.45 L115.92,428.50 L117.20,427.56 L118.48,426.63 L119.76,425.72 L121.03,424.82 L122.31,423.93 L123.59,423.06 L124.87,422.20 L126.14,421.35 L127.42,420.51 L128.70,419.68 L129.98,418.86 L131.26,418.05 L132.53,417.25 L133.81,416.46 L135.09,415.68 L136.37,414.91 L137.64,414.15 L138.92,413.39 L140.20,412.65 L141.48,411.91 L142.75,411.18 L144.03,410.46 L145.31,409.74 L146.59,409.03 L147.87,408.33 L149.14,407.64 L150.42,406.95 L151.70,406.27 L152.98,405.60 L154.25,404.93 L155.53,404.27 L156.81,403.61 L158.09,402.96 L159.37,402.31 L160.64,401.68 L161.92,401.04 L163.20,400.41 L164.48,399.79 L165.75,399.17 L167.03,398.56 L168.31,397.95 L169.59,397.35 L170.87,396.75 L172.14,396.16 L173.42,395.57 L174.70,394.99 L175.98,394.41 L177.25,393.84 L178.53,393.27 L179.81,392.71 L181.09,392.14 L182.37,391.59 L183.64,391.04 L184.92,390.49 L186.20,389.95 L187.48,389.41 L188.75,388.87 L190.03,388.34 L191.31,387.82 L192.59,387.29 L193.87,386.77 L195.14,386.26 L196.42,385.75 L197.70,385.24 L198.98,384.73 L200.25,384.23 L201.53,383.74 L202.81,383.24 L204.09,382.75 L205.37,382.27 L206.64,381.78 L207.92,381.30 L209.20,380.83 L210.48,380.35 L211.75,379.88 L213.03,379.41 L214.31,378.95 L215.59,378.49 L216.87,378.03 L218.14,377.58 L219.42,377.13 L220.70,376.68 L221.98,376.23 L223.25,375.79 L224.53,375.35 L225.81,374.91 L227.09,374.48 L228.37,374.05 L229.64,373.62 L230.92,373.19 L232.20,372.77 L233.48,372.35 L234.75,371.93 L236.03,371.51 L237.31,371.10 L238.59,370.69 L239.86,370.28 L241.14,369.87 L242.42,369.47 L243.70,369.07 L244.98,368.67 L246.25,368.27 L247.53,367.88 L248.81,367.49 L250.09,367.10 L251.36,366.71 L252.64,366.33 L253.92,365.94 L255.20,365.56 L256.48,365.18 L257.75,364.81 L259.03,364.43 L260.31,364.06 L261.59,363.69 L262.86,363.32 L264.14,362.96 L265.42,362.59 L266.70,362.23 L267.98,361.87 L269.25,361.51 L270.53,361.16 L271.81,360.80 L273.09,360.45 L274.36,360.10 L275.64,359.75 L276.92,359.41 L278.20,359.06 L279.48,358.72 L280.75,358.38 L282.03,358.04 L283.31,357.70 L284.59,357.36 L285.86,357.03 L287.14,356.70 L288.42,356.37 L289.70,356.04 L290.98,355.71 L292.25,355.38 L293.53,355.06 L294.81,354.74 L296.09,354.42 L297.36,354.10 L298.64,353.78 L299.92,353.46 L301.20,353.15 L302.48,352.83 L303.75,352.52 L305.03,352.21 L306.31,351.90 L307.59,351.60 L308.86,351.29 L310.14,350.99 L311.42,350.68 L312.70,350.38 L313.98,350.08 L315.25,349.78 L316.53,349.49 L317.81,349.19 L319.09,348.89 L320.36,348.60 L321.64,348.31 L322.92,348.02 L324.20,347.73 L325.48,347.44 L326.75,347.15 L328.03,346.87 L329.31,346.59 L330.59,346.30 L331.86,346.02 L333.14,345.74 L334.42,345.46 L335.70,345.18 L336.97,344.91 L338.25,344.63 L339.53,344.36 L340.81,344.08 L342.09,343.81 L343.36,343.54 L344.64,343.27 L345.92,343.00 L347.20,342.74 L348.47,342.47 L349.75,342.20 L351.03,341.94 L352.31,341.68 L353.59,341.42 L354.86,341.16 L356.14,340.90 L357.42,340.64 L358.70,340.38 L359.97,340.12 L361.25,339.87 L362.53,339.61 L363.81,339.36 L365.09,339.11 L366.36,338.86 L367.64,338.61 L368.92,338.36 L370.20,338.11 L371.47,337.86 L372.75,337.62 L374.03,337.37 L375.31,337.13 L376.59,336.88 L377.86,336.64 L379.14,336.40 L380.42,336.16 L381.70,335.92 L382.97,335.68 L384.25,335.45 L385.53,335.21 L386.81,334.97 L388.09,334.74 L389.36,334.50 L390.64,334.27 L391.92,334.04 L393.20,333.81 L394.47,333.58 L395.75,333.35 L397.03,333.12 L398.31,332.89 L399.59,332.66 L400.86,332.44 L402.14,332.21 L403.42,331.99 L404.70,331.76 L405.97,331.54 L407.25,331.32 L408.53,331.10 L409.81,330.88 L411.09,330.66 L412.36,330.44 L413.64,330.22 L414.92,330.00 L416.20,329.79 L417.47,329.57 L418.75,329.36 L420.03,329.14 L421.31,328.93 L422.59,328.72 L423.86,328.50 L425.14,328.29 L426.42,328.08 L427.70,327.87 L428.97,327.66 L430.25,327.46 L431.53,327.25 L432.81,327.04 L434.08,326.84 L435.36,326.63 L436.64,326.43 L437.92,326.22 L439.20,326.02 L440.47,325.82 L441.75,325.61 L443.03,325.41 L444.31,325.21 L445.58,325.01 L446.86,324.81 L448.14,324.61 L449.42,324.42 L450.70,324.22 L451.97,324.02 L453.25,323.83 L454.53,323.63 L455.81,323.44 L457.08,323.24 L458.36,323.05 L459.64,322.86 L460.92,322.67 L462.20,322.47 L463.47,322.28 L464.75,322.09 L466.03,321.90 L467.31,321.72 L468.58,321.53 L469.86,321.34 L471.14,321.15 L472.42,320.97 L473.70,320.78 L474.97,320.59 L476.25,320.41 L477.53,320.23 L478.81,320.04 L480.08,319.86 L481.36,319.68 L482.64,319.49 L483.92,319.31 L485.20,319.13 L486.47,318.95 L487.75,318.77 L489.03,318.59 L490.31,318.42 L491.58,318.24 L492.86,318.06 L494.14,317.88 L495.42,317.71 L496.70,317.53 L497.97,317.36 L499.25,317.18 L500.53,317.01 L501.81,316.83 L503.08,316.66 L504.36,316.49 L505.64,316.32 L506.92,316.14 L508.20,315.97 L509.47,315.80 L510.75,315.63 L512.03,315.46 L513.31,315.29 L514.58,315.13 L515.86,314.96 L517.14,314.79 L518.42,314.62 L519.70,314.46 L520.97,314.29 L522.25,314.13 L523.53,313.96 L524.81,313.80 L526.08,313.63 L527.36,313.47 L528.64,313.30 L529.92,313.14 L531.19,312.98 L532.47,312.82 L533.75,312.66 L535.03,312.50 L536.31,312.34 L537.58,312.18 L538.86,312.02 L540.14,311.86 L541.42,311.70 L542.69,311.54 L543.97,311.38 L545.25,311.23 L546.53,311.07 L547.81,310.91 L549.08,310.76 L550.36,310.60 L551.64,310.45 L552.92,310.29 L554.19,310.14 L555.47,309.98 L556.75,309.83 L558.03,309.68 L559.31,309.52 L560.58,309.37 L561.86,309.22 L563.14,309.07 L564.42,308.92 L565.69,308.77 L566.97,308.62 L568.25,308.47 L569.53,308.32 L570.81,308.17 L572.08,308.02 L573.36,307.87 L574.64,307.73 L575.92,307.58 L577.19,307.43 L578.47,307.29 L579.75,307.14" stroke="#ff0000" stroke-width="4.6"/></g><g stroke="#000" stroke-width="1.5" fill="none"><path d="M265.8,331.7 H286.59999999999997 M276.2,319.7 V343.7"/><path d="M265.8,329.5 V333.9 M286.59999999999997,329.5 V333.9 M274.0,319.7 H278.4 M274.0,343.7 H278.4" stroke-width="2"/></g><path d="M276.2,324.5 L283.4,331.7 L276.2,338.9 L269.0,331.7 Z" fill="#077a07" stroke="#000" stroke-width="2" stroke-linejoin="miter"/><rect x="56.85" y="15.2" width="522.9" height="204.0" fill="none" stroke="#1a1a1a" stroke-width="1.2"/><path d="M122.21,219.2 v-11 M122.21,15.2 v11 M187.57,219.2 v-11 M187.57,15.2 v11 M252.94,219.2 v-11 M252.94,15.2 v11 M318.30,219.2 v-11 M318.30,15.2 v11 M383.66,219.2 v-11 M383.66,15.2 v11 M449.03,219.2 v-11 M449.03,15.2 v11 M514.39,219.2 v-11 M514.39,15.2 v11 M69.92,219.2 v-6 M69.92,15.2 v6 M83.00,219.2 v-6 M83.00,15.2 v6 M96.07,219.2 v-6 M96.07,15.2 v6 M109.14,219.2 v-6 M109.14,15.2 v6 M135.28,219.2 v-6 M135.28,15.2 v6 M148.36,219.2 v-6 M148.36,15.2 v6 M161.43,219.2 v-6 M161.43,15.2 v6 M174.50,219.2 v-6 M174.50,15.2 v6 M200.65,219.2 v-6 M200.65,15.2 v6 M213.72,219.2 v-6 M213.72,15.2 v6 M226.79,219.2 v-6 M226.79,15.2 v6 M239.86,219.2 v-6 M239.86,15.2 v6 M266.01,219.2 v-6 M266.01,15.2 v6 M279.08,219.2 v-6 M279.08,15.2 v6 M292.15,219.2 v-6 M292.15,15.2 v6 M305.23,219.2 v-6 M305.23,15.2 v6 M331.37,219.2 v-6 M331.37,15.2 v6 M344.44,219.2 v-6 M344.44,15.2 v6 M357.52,219.2 v-6 M357.52,15.2 v6 M370.59,219.2 v-6 M370.59,15.2 v6 M396.74,219.2 v-6 M396.74,15.2 v6 M409.81,219.2 v-6 M409.81,15.2 v6 M422.88,219.2 v-6 M422.88,15.2 v6 M435.95,219.2 v-6 M435.95,15.2 v6 M462.10,219.2 v-6 M462.10,15.2 v6 M475.17,219.2 v-6 M475.17,15.2 v6 M488.24,219.2 v-6 M488.24,15.2 v6 M501.31,219.2 v-6 M501.31,15.2 v6 M527.46,219.2 v-6 M527.46,15.2 v6 M540.53,219.2 v-6 M540.53,15.2 v6 M553.61,219.2 v-6 M553.61,15.2 v6 M566.68,219.2 v-6 M566.68,15.2 v6 M56.85,203.51 h11 M579.75,203.51 h-11 M56.85,172.12 h11 M579.75,172.12 h-11 M56.85,140.74 h11 M579.75,140.74 h-11 M56.85,109.35 h11 M579.75,109.35 h-11 M56.85,77.97 h11 M579.75,77.97 h-11 M56.85,46.58 h11 M579.75,46.58 h-11 M56.85,187.82 h6 M579.75,187.82 h-6 M56.85,156.43 h6 M579.75,156.43 h-6 M56.85,125.05 h6 M579.75,125.05 h-6 M56.85,93.66 h6 M579.75,93.66 h-6 M56.85,62.28 h6 M579.75,62.28 h-6 M56.85,30.89 h6 M579.75,30.89 h-6" stroke="#1a1a1a" stroke-width="1.2" fill="none"/><rect x="56.85" y="268.6" width="522.9" height="203.89999999999998" fill="none" stroke="#1a1a1a" stroke-width="1.2"/><path d="M187.57,472.5 v-11 M187.57,268.6 v11 M318.30,472.5 v-11 M318.30,268.6 v11 M449.03,472.5 v-11 M449.03,268.6 v11 M83.00,472.5 v-6 M83.00,268.6 v6 M109.14,472.5 v-6 M109.14,268.6 v6 M135.28,472.5 v-6 M135.28,268.6 v6 M161.43,472.5 v-6 M161.43,268.6 v6 M213.72,472.5 v-6 M213.72,268.6 v6 M239.86,472.5 v-6 M239.86,268.6 v6 M266.01,472.5 v-6 M266.01,268.6 v6 M292.15,472.5 v-6 M292.15,268.6 v6 M344.44,472.5 v-6 M344.44,268.6 v6 M370.59,472.5 v-6 M370.59,268.6 v6 M396.74,472.5 v-6 M396.74,268.6 v6 M422.88,472.5 v-6 M422.88,268.6 v6 M475.17,472.5 v-6 M475.17,268.6 v6 M501.31,472.5 v-6 M501.31,268.6 v6 M527.46,472.5 v-6 M527.46,268.6 v6 M553.61,472.5 v-6 M553.61,268.6 v6 M56.85,448.51 h11 M579.75,448.51 h-11 M56.85,424.52 h11 M579.75,424.52 h-11 M56.85,400.54 h11 M579.75,400.54 h-11 M56.85,376.55 h11 M579.75,376.55 h-11 M56.85,352.56 h11 M579.75,352.56 h-11 M56.85,328.57 h11 M579.75,328.57 h-11 M56.85,304.58 h11 M579.75,304.58 h-11 M56.85,280.59 h11 M579.75,280.59 h-11 M56.85,460.51 h6 M579.75,460.51 h-6 M56.85,436.52 h6 M579.75,436.52 h-6 M56.85,412.53 h6 M579.75,412.53 h-6 M56.85,388.54 h6 M579.75,388.54 h-6 M56.85,364.55 h6 M579.75,364.55 h-6 M56.85,340.56 h6 M579.75,340.56 h-6 M56.85,316.58 h6 M579.75,316.58 h-6 M56.85,292.59 h6 M579.75,292.59 h-6" stroke="#1a1a1a" stroke-width="1.2" fill="none"/><path d="M229.5,384.7 H304.5" stroke="#0000ff" stroke-width="2.3" stroke-dasharray="14.3 2.7 2.3 2.5"/><path d="M229.5,406.8 H304.5" stroke="#9ed89e" stroke-width="2.7"/><path d="M229.5,406.8 H304.5" stroke="#006400" stroke-width="2.1" stroke-dasharray="3.35 1.2"/><path d="M229.5,428.8 H304.5" stroke="#ff0000" stroke-width="4.6" stroke-linecap="square"/><path d="M229.5,450.7 H304.5" stroke="#000" stroke-width="1.1"/><path d="M267.1,443.09999999999997 L274.70000000000005,450.7 L267.1,458.3 L259.5,450.7 Z" fill="#077a07" stroke="#000" stroke-width="2" stroke-linejoin="miter"/><text x="55.94" y="209.01" font-size="19.60" text-anchor="end" textLength="11.77" lengthAdjust="spacingAndGlyphs" font-family="'Liberation Sans', sans-serif" >4</text><text x="56.07" y="177.62" font-size="19.60" text-anchor="end" textLength="11.77" lengthAdjust="spacingAndGlyphs" font-family="'Liberation Sans', sans-serif" >6</text><text x="56.16" y="146.24" font-size="19.60" text-anchor="end" textLength="11.77" lengthAdjust="spacingAndGlyphs" font-family="'Liberation Sans', sans-serif" >8</text><text x="56.13" y="114.85" font-size="19.60" text-anchor="end" textLength="23.54" lengthAdjust="spacingAndGlyphs" font-family="'Liberation Sans', sans-serif" >10</text><text x="56.75" y="83.47" font-size="19.60" text-anchor="end" textLength="23.54" lengthAdjust="spacingAndGlyphs" font-family="'Liberation Sans', sans-serif" >12</text><text x="55.94" y="52.08" font-size="19.60" text-anchor="end" textLength="23.54" lengthAdjust="spacingAndGlyphs" font-family="'Liberation Sans', sans-serif" >14</text><text x="56.07" y="20.70" font-size="19.60" text-anchor="end" textLength="23.54" lengthAdjust="spacingAndGlyphs" font-family="'Liberation Sans', sans-serif" >16</text><text x="56.23" y="477.90" font-size="19.60" text-anchor="end" textLength="29.42" lengthAdjust="spacingAndGlyphs" font-family="'Liberation Sans', sans-serif" >1.0</text><text x="56.85" y="453.91" font-size="19.60" text-anchor="end" textLength="29.42" lengthAdjust="spacingAndGlyphs" font-family="'Liberation Sans', sans-serif" >1.2</text><text x="56.04" y="429.92" font-size="19.60" text-anchor="end" textLength="29.42" lengthAdjust="spacingAndGlyphs" font-family="'Liberation Sans', sans-serif" >1.4</text><text x="56.17" y="405.94" font-size="19.60" text-anchor="end" textLength="29.42" lengthAdjust="spacingAndGlyphs" font-family="'Liberation Sans', sans-serif" >1.6</text><text x="56.26" y="381.95" font-size="19.60" text-anchor="end" textLength="29.42" lengthAdjust="spacingAndGlyphs" font-family="'Liberation Sans', sans-serif" >1.8</text><text x="56.23" y="357.96" font-size="19.60" text-anchor="end" textLength="29.42" lengthAdjust="spacingAndGlyphs" font-family="'Liberation Sans', sans-serif" >2.0</text><text x="56.85" y="333.97" font-size="19.60" text-anchor="end" textLength="29.42" lengthAdjust="spacingAndGlyphs" font-family="'Liberation Sans', sans-serif" >2.2</text><text x="56.04" y="309.98" font-size="19.60" text-anchor="end" textLength="29.42" lengthAdjust="spacingAndGlyphs" font-family="'Liberation Sans', sans-serif" >2.4</text><text x="56.17" y="285.99" font-size="19.60" text-anchor="end" textLength="29.42" lengthAdjust="spacingAndGlyphs" font-family="'Liberation Sans', sans-serif" >2.6</text><text x="58.15" y="240.70" font-size="19.60" text-anchor="middle" textLength="11.77" lengthAdjust="spacingAndGlyphs" font-family="'Liberation Sans', sans-serif" >0</text><text x="123.51" y="240.70" font-size="19.60" text-anchor="middle" textLength="11.77" lengthAdjust="spacingAndGlyphs" font-family="'Liberation Sans', sans-serif" >5</text><text x="188.88" y="240.70" font-size="19.60" text-anchor="middle" textLength="23.54" lengthAdjust="spacingAndGlyphs" font-family="'Liberation Sans', sans-serif" >10</text><text x="254.24" y="240.70" font-size="19.60" text-anchor="middle" textLength="23.54" lengthAdjust="spacingAndGlyphs" font-family="'Liberation Sans', sans-serif" >15</text><text x="319.60" y="240.70" font-size="19.60" text-anchor="middle" textLength="23.54" lengthAdjust="spacingAndGlyphs" font-family="'Liberation Sans', sans-serif" >20</text><text x="384.96" y="240.70" font-size="19.60" text-anchor="middle" textLength="23.54" lengthAdjust="spacingAndGlyphs" font-family="'Liberation Sans', sans-serif" >25</text><text x="450.33" y="240.70" font-size="19.60" text-anchor="middle" textLength="23.54" lengthAdjust="spacingAndGlyphs" font-family="'Liberation Sans', sans-serif" >30</text><text x="515.69" y="240.70" font-size="19.60" text-anchor="middle" textLength="23.54" lengthAdjust="spacingAndGlyphs" font-family="'Liberation Sans', sans-serif" >35</text><text x="581.05" y="240.70" font-size="19.60" text-anchor="middle" textLength="23.54" lengthAdjust="spacingAndGlyphs" font-family="'Liberation Sans', sans-serif" >40</text><text x="58.15" y="493.60" font-size="19.60" text-anchor="middle" textLength="11.77" lengthAdjust="spacingAndGlyphs" font-family="'Liberation Sans', sans-serif" >0</text><text x="188.88" y="493.60" font-size="19.60" text-anchor="middle" textLength="11.77" lengthAdjust="spacingAndGlyphs" font-family="'Liberation Sans', sans-serif" >5</text><text x="319.60" y="493.60" font-size="19.60" text-anchor="middle" textLength="23.54" lengthAdjust="spacingAndGlyphs" font-family="'Liberation Sans', sans-serif" >10</text><text x="450.33" y="493.60" font-size="19.60" text-anchor="middle" textLength="23.54" lengthAdjust="spacingAndGlyphs" font-family="'Liberation Sans', sans-serif" >15</text><text x="581.05" y="493.60" font-size="19.60" text-anchor="middle" textLength="23.54" lengthAdjust="spacingAndGlyphs" font-family="'Liberation Sans', sans-serif" >20</text><text x="247.54" y="261.30" font-size="19.07" text-anchor="start" textLength="143.12" lengthAdjust="spacingAndGlyphs" font-family="'Liberation Sans', sans-serif" >Pressure (Mbar)</text><text x="286.24" y="514.50" font-size="19.07" text-anchor="start" textLength="48.57" lengthAdjust="spacingAndGlyphs" font-family="'Liberation Sans', sans-serif" >M / M</text><text x="335.6" y="518.6" font-size="13.0" font-style="italic" stroke="#000" stroke-width="0.2" textLength="9.6" lengthAdjust="spacingAndGlyphs" font-family="'Liberation Serif', serif">E</text><text x="310.13" y="390.00" font-size="15.89" text-anchor="start" textLength="258.00" lengthAdjust="spacingAndGlyphs" font-family="'Liberation Sans', sans-serif" >Birch-Murnaghan fit (Aleksandrov)</text><text x="310.13" y="412.10" font-size="15.89" text-anchor="start" textLength="229.92" lengthAdjust="spacingAndGlyphs" font-family="'Liberation Sans', sans-serif" >Modified polytrope fit (Seager)</text><text x="310.13" y="434.10" font-size="15.89" text-anchor="start" textLength="205.03" lengthAdjust="spacingAndGlyphs" font-family="'Liberation Sans', sans-serif" >DFT simulations (this work)</text><text x="310.13" y="456.00" font-size="15.89" text-anchor="start" textLength="85.61" lengthAdjust="spacingAndGlyphs" font-family="'Liberation Sans', sans-serif" >55 Cancri e</text><g transform="translate(25.5,193.364) rotate(-90)"><text x="0.00" y="0.00" font-size="19.07" text-anchor="start" textLength="125.75" lengthAdjust="spacingAndGlyphs" font-family="'Liberation Sans', sans-serif" >Density (g cm</text><text x="126.05" y="-6.80" font-size="13.35" text-anchor="start" textLength="10.56" lengthAdjust="spacingAndGlyphs" font-family="'Liberation Sans', sans-serif" >−</text><text x="135.65" y="-8.0" font-size="12.6" font-family="'Liberation Serif', serif">3</text><text x="145.25" y="0.00" font-size="19.07" text-anchor="start" textLength="7.02" lengthAdjust="spacingAndGlyphs" font-family="'Liberation Sans', sans-serif" >)</text></g><g transform="translate(16.8,398.164) rotate(-90)"><text x="0.00" y="0.00" font-size="19.07" text-anchor="start" textLength="42.52" lengthAdjust="spacingAndGlyphs" font-family="'Liberation Sans', sans-serif" >R / R</text><text x="42.92" y="4.1" font-size="13.0" font-style="italic" stroke="#000" stroke-width="0.2" textLength="9.6" lengthAdjust="spacingAndGlyphs" font-family="'Liberation Serif', serif">E</text></g></svg>
</body></html>
